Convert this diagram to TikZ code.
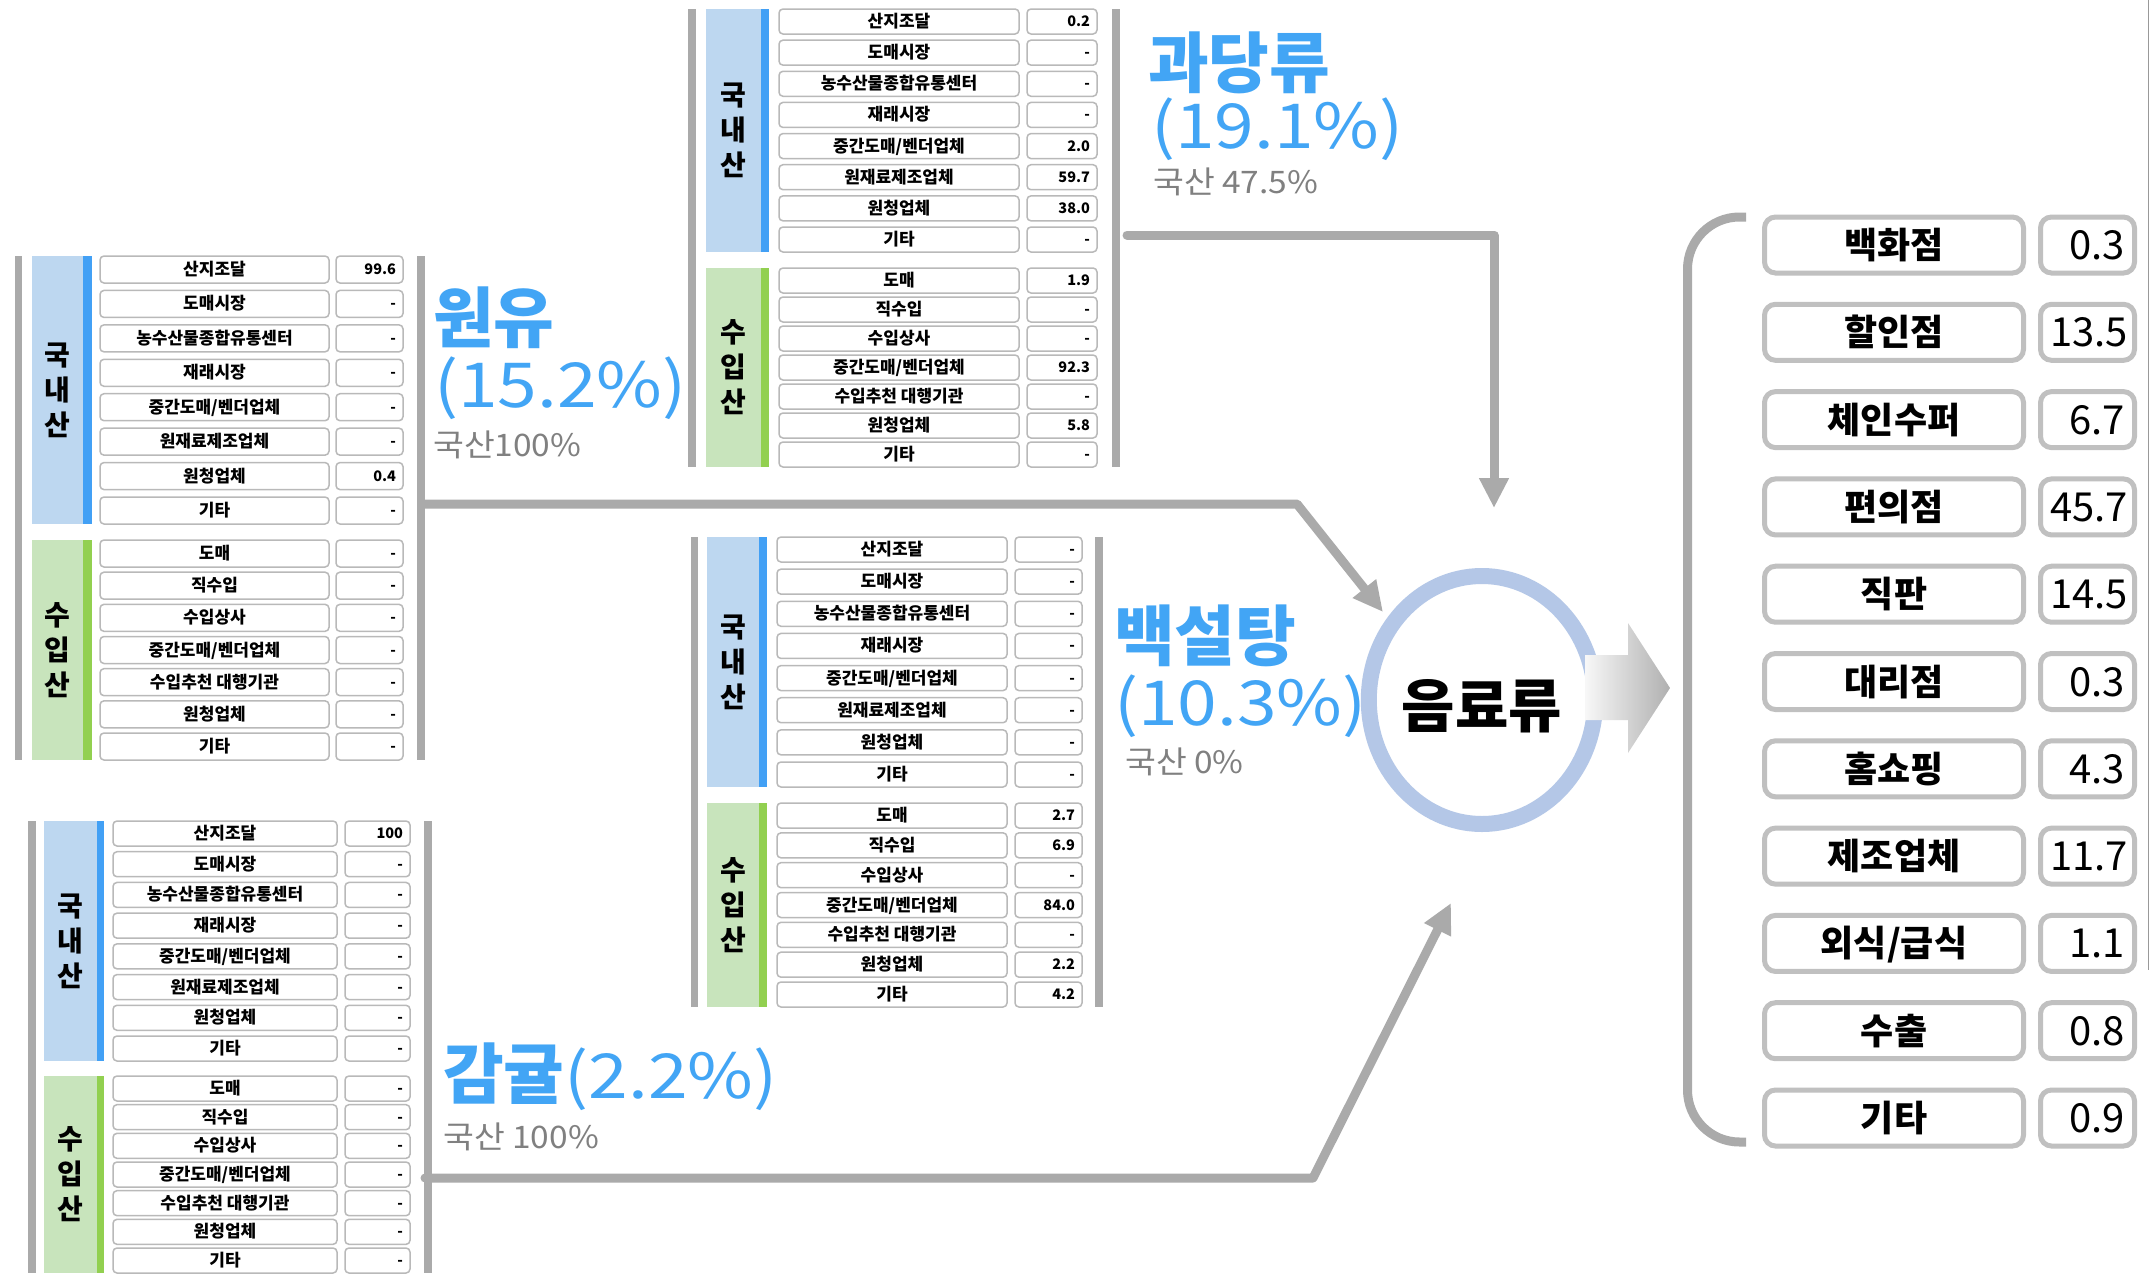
\documentclass[tikz,border=0pt]{standalone}
\usepackage{fontspec}
\usepackage{graphicx}
\setmainfont{Noto Sans CJK KR}
\usetikzlibrary{arrows.meta,shapes.geometric}
\definecolor{bargray}{RGB}{170,170,170}
\definecolor{paleblue}{RGB}{189,215,240}
\definecolor{stripblue}{RGB}{66,160,245}
\definecolor{palegreen}{RGB}{200,228,188}
\definecolor{stripgreen}{RGB}{146,208,80}
\definecolor{boxgray}{RGB}{185,185,185}
\definecolor{boxgrayb}{RGB}{192,192,192}
\definecolor{labelblue}{RGB}{66,165,245}
\definecolor{graytext}{RGB}{128,128,128}
\definecolor{circblue}{RGB}{180,199,231}

\newcommand\mywide[1]{\scalebox{1.15}[1]{#1}}
\newcommand\mywideg[1]{\scalebox{1.08}[1]{#1}}

\tikzset{
  sidelab/.style={align=center,inner sep=0pt,font=\fontsize{28}{35}\selectfont\bfseries},
  rowbox/.style={draw=boxgray,line width=1.5pt,rounded corners=4pt,fill=white,inner sep=0pt,
    font=\fontsize{17}{19}\selectfont\bfseries,text height=14pt,text depth=2pt},
  valbox/.style={draw=boxgray,line width=1.5pt,rounded corners=4pt,fill=white,inner xsep=7pt,inner ysep=0pt,
    align=right,font=\fontsize{14.5}{16}\selectfont\bfseries,text height=11pt,text depth=1pt},
  rlab/.style={draw=boxgrayb,line width=5pt,rounded corners=11pt,fill=white,inner sep=0pt,
    minimum width=259pt,minimum height=56pt,font=\fontsize{36}{40}\selectfont\bfseries,text height=30pt,text depth=3pt},
  rval/.style={draw=boxgrayb,line width=5pt,rounded corners=11pt,fill=white,inner xsep=9.5pt,inner ysep=0pt,
    minimum width=94pt,minimum height=56pt,text width=75pt,align=right,
    font=\fontsize{40}{44}\selectfont,text height=31pt,text depth=2pt},
  bigb/.style={anchor=base west,inner sep=0pt,text=labelblue,font=\fontsize{66}{66}\selectfont\bfseries},
  bigr/.style={anchor=base west,inner sep=0pt,text=labelblue,font=\fontsize{62}{62}\selectfont},
  graysub/.style={anchor=base west,inner sep=0pt,text=graytext,font=\fontsize{31}{31}\selectfont},
  conn/.style={draw=bargray,line width=9pt,line cap=round,line join=round,-{Triangle[length=30pt,width=28pt]}}
}

\newcommand\mytbl[3]{%
  \pgfmathsetmacro\mydp{(\Ymida-\Ytop-\Rh)/7}%
  \pgfmathsetmacro\myip{(\Ybot-\Ymidb-\Rh)/6}%
  \pgfmathsetmacro\mylw{\Lb-\La}%
  \pgfmathsetmacro\mylc{(\La+\Lb)/2}%
  \pgfmathsetmacro\myvw{\Vb-\Va}%
  \pgfmathsetmacro\myvc{(\Va+\Vb)/2}%
  \pgfmathsetmacro\myvtw{\Vb-\Va-14}%
  \pgfmathsetmacro\mypc{(\PBa+\PBb)/2}%
  \pgfmathsetmacro\mydy{(\Ytop+\Ymida)/2}%
  \pgfmathsetmacro\myiy{(\Ymidb+\Ybot)/2}%
  \fill[bargray] (\LBa,\Ytop) rectangle (\LBb,\Ybot);
  \fill[bargray] (\RBa,\Ytop) rectangle (\RBb,\Ybot);
  \fill[paleblue] (\PBa,\Ytop) rectangle (\PBb,\Ymida);
  \fill[stripblue] (\PBb,\Ytop) rectangle (\SB,\Ymida);
  \fill[palegreen] (\PBa,\Ymidb) rectangle (\PBb,\Ybot);
  \fill[stripgreen] (\PBb,\Ymidb) rectangle (\SB,\Ybot);
  \node[sidelab] (#1dom) at (\mypc,\mydy) {국\\내\\산};
  \node[sidelab] (#1imp) at (\mypc,\myiy) {수\\입\\산};
  \foreach \lab/\v [count=\i] in {#2}{%
    \pgfmathsetmacro\yc{\Ytop+(\i-1)*\mydp+\Rh/2}
    \node[rowbox,minimum width=\mylw pt,minimum height=\Rh pt] (#1d\i) at (\mylc,\yc) {\lab};
    \node[valbox,minimum width=\myvw pt,minimum height=\Rh pt,text width=\myvtw pt] (#1dv\i) at (\myvc,\yc) {\v};
  }
  \foreach \lab/\v [count=\i] in {#3}{%
    \pgfmathsetmacro\yc{\Ymidb+(\i-1)*\myip+\Rh/2}
    \node[rowbox,minimum width=\mylw pt,minimum height=\Rh pt] (#1i\i) at (\mylc,\yc) {\lab};
    \node[valbox,minimum width=\myvw pt,minimum height=\Rh pt,text width=\myvtw pt] (#1iv\i) at (\myvc,\yc) {\v};
  }
}

\begin{document}
\begin{tikzpicture}[x=1pt,y=-1pt]
\useasboundingbox[fill=white] (0,0) rectangle (2152,1275);

% ---------- table 1 (원유)
\def\LBa{15}\def\LBb{22}\def\PBa{32}\def\PBb{83}\def\SB{92}
\def\La{100}\def\Lb{329}\def\Va{336}\def\Vb{403}\def\RBa{417}\def\RBb{425}
\def\Ytop{256}\def\Ymida{524}\def\Ymidb{540}\def\Ybot{760}\def\Rh{27}
\mytbl{ta}{산지조달/99.6,도매시장/-,농수산물종합유통센터/-,재래시장/-,{중간도매/벤더업체}/-,원재료제조업체/-,원청업체/0.4,기타/-}
{도매/-,직수입/-,수입상사/-,{중간도매/벤더업체}/-,수입추천 대행기관/-,원청업체/-,기타/-}

% ---------- table 2 (과당류)
\def\LBa{688}\def\LBb{696}\def\PBa{706}\def\PBb{761}\def\SB{769}
\def\La{779}\def\Lb{1019}\def\Va{1027}\def\Vb{1097}\def\RBa{1112}\def\RBb{1120}
\def\Ytop{9}\def\Ymida{252}\def\Ymidb{268}\def\Ybot{467}\def\Rh{25}
\mytbl{tb}{산지조달/0.2,도매시장/-,농수산물종합유통센터/-,재래시장/-,{중간도매/벤더업체}/2.0,원재료제조업체/59.7,원청업체/38.0,기타/-}
{도매/1.9,직수입/-,수입상사/-,{중간도매/벤더업체}/92.3,수입추천 대행기관/-,원청업체/5.8,기타/-}

% ---------- table 3 (백설탕)
\def\LBa{691}\def\LBb{698}\def\PBa{707}\def\PBb{759}\def\SB{767}
\def\La{777}\def\Lb{1007}\def\Va{1015}\def\Vb{1082}\def\RBa{1095}\def\RBb{1103}
\def\Ytop{537}\def\Ymida{787}\def\Ymidb{803}\def\Ybot{1007}\def\Rh{25}
\mytbl{tc}{산지조달/-,도매시장/-,농수산물종합유통센터/-,재래시장/-,{중간도매/벤더업체}/-,원재료제조업체/-,원청업체/-,기타/-}
{도매/2.7,직수입/6.9,수입상사/-,{중간도매/벤더업체}/84.0,수입추천 대행기관/-,원청업체/2.2,기타/4.2}

% ---------- table 4 (감귤)
\def\LBa{28}\def\LBb{36}\def\PBa{44}\def\PBb{97}\def\SB{104}
\def\La{113}\def\Lb{337}\def\Va{345}\def\Vb{410}\def\RBa{424}\def\RBb{432}
\def\Ytop{821}\def\Ymida{1061}\def\Ymidb{1076}\def\Ybot{1273}\def\Rh{25}
\mytbl{td}{산지조달/100,도매시장/-,농수산물종합유통센터/-,재래시장/-,{중간도매/벤더업체}/-,원재료제조업체/-,원청업체/-,기타/-}
{도매/-,직수입/-,수입상사/-,{중간도매/벤더업체}/-,수입추천 대행기관/-,원청업체/-,기타/-}

% ---------- big labels
\node[bigb] (la1) at (433,342) {원유};
\node[bigr] (la2) at (434,407) {\mywide{(15.2\%)}};
\node[graysub] (la3) at (433,456) {\mywideg{국산100\%}};
\node[bigb] (lb1) at (1148,87) {과당류};
\node[bigr] (lb2) at (1151,148) {\mywide{(19.1\%)}};
\node[graysub] (lb3) at (1153,193) {\mywideg{국산 47.5\%}};
\node[bigb] (lc1) at (1114,660) {백설탕};
\node[bigr] (lc2) at (1114,725) {\mywide{(10.3\%)}};
\node[graysub] (lc3) at (1125,773) {\mywideg{국산 0\%}};
\node[bigr] (ld1) at (443,1098) {{\fontsize{66}{66}\selectfont\bfseries 감귤}\mywide{(2.2\%)}};
\node[graysub] (ld3) at (443,1148) {\mywideg{국산 100\%}};

% ---------- central ellipse
\node[ellipse,draw=circblue,line width=16pt,minimum width=204pt,minimum height=248pt,inner sep=0pt,
  text height=55pt,text depth=0pt,
  font=\fontsize{58}{58}\selectfont\bfseries] (drink) at (1482,700) {음료류};

% ---------- connectors
\coordinate (a1s) at (425,504);
\coordinate (a1b) at (1297,504);
\coordinate (a1e) at (1383,612);
\draw[conn] (a1s) -- (a1b) -- (a1e);
\coordinate (a2s) at (1127,235);
\coordinate (a2b) at (1494,235);
\coordinate (a2e) at (1494,508);
\draw[conn] (a2s) -- (a2b) -- (a2e);
\coordinate (a3s) at (425,1178);
\coordinate (a3b) at (1313,1178);
\coordinate (a3e) at (1451,903);
\draw[conn] (a3s) -- (a3b) -- (a3e);

% ---------- block arrow
\shade[left color=gray!6,right color=gray!62] (1585,655) -- (1628,655) -- (1628,623) -- (1670,688)
  -- (1628,753) -- (1628,720) -- (1585,720) -- cycle;

% ---------- bracket
\draw[bargray,line width=9pt,rounded corners=52pt] (1746,217) -- (1687.5,217) -- (1687.5,1142) -- (1746,1142);

% ---------- right edge line
\draw[gray!80,line width=1.5pt] (2148.5,0) -- (2148.5,970);

% ---------- right list
\foreach \lab/\v [count=\i] in {백화점/0.3,할인점/13.5,체인수퍼/6.7,편의점/45.7,직판/14.5,대리점/0.3,홈쇼핑/4.3,제조업체/11.7,{외식/급식}/1.1,수출/0.8,기타/0.9}{
  \pgfmathsetmacro\yc{245+87.3*(\i-1)}
  \node[rlab] (r\i) at (1894,\yc) {\lab};
  \node[rval] (rv\i) at (2087.5,\yc) {\v};
}
\end{tikzpicture}
\end{document}
